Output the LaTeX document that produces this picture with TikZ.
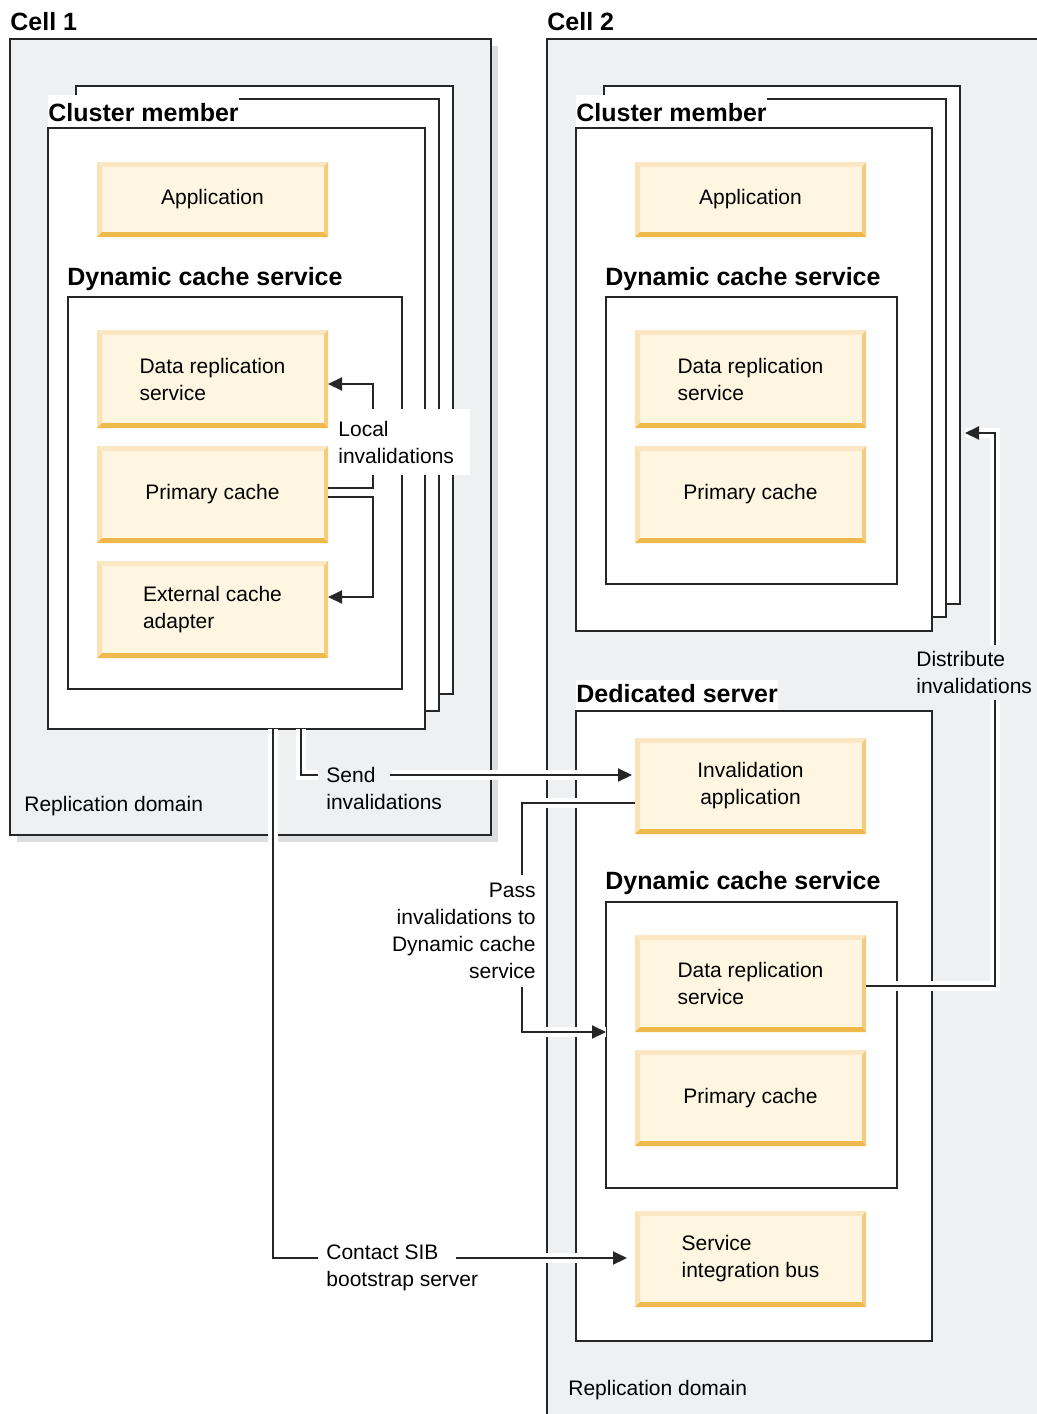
\documentclass[tikz,border=0pt]{standalone}
\usepackage{fontspec}
\setmainfont{Liberation Sans}
\usetikzlibrary{calc,arrows.meta}

\definecolor{ink}{HTML}{262626}
\definecolor{cellgray}{HTML}{EFF0F2}
\definecolor{shadowgray}{HTML}{DCDDDF}
\definecolor{yfill}{HTML}{FEF6E1}
\definecolor{ytop}{HTML}{FCE7C4}
\definecolor{yleft}{HTML}{FBE2B4}
\definecolor{yright}{HTML}{F5CC7D}
\definecolor{ybottom}{HTML}{EFBA4B}

\tikzset{
  txt/.style={font=\fontsize{10.5}{13.5}\selectfont, inner sep=0pt},
  title/.style={font=\fontsize{12.5}{15}\selectfont\bfseries, inner sep=0pt, anchor=base west},
  cellbox/.style={draw=ink, fill=cellgray, line width=1pt},
  frame/.style={draw=ink, fill=white, line width=1pt, anchor=north west, inner sep=0pt, outer sep=0pt},
  ybox/.style={txt, fill=yfill, minimum width=115.5pt, outer sep=0pt,
    path picture={
      \coordinate (pp-sw) at (path picture bounding box.south west);
      \coordinate (pp-ne) at (path picture bounding box.north east);
      \fill[ytop] (pp-sw|-pp-ne) -- (pp-ne) -- ($(pp-ne)+(-2pt,-2.5pt)$) -- ($(pp-sw|-pp-ne)+(2.5pt,-2.5pt)$) -- cycle;
      \fill[yleft] (pp-sw|-pp-ne) -- ($(pp-sw|-pp-ne)+(2.5pt,-2.5pt)$) -- ($(pp-sw)+(2.5pt,2.5pt)$) -- (pp-sw) -- cycle;
      \fill[yright] (pp-ne) -- (pp-ne|-pp-sw) -- ($(pp-ne|-pp-sw)+(-2pt,2.5pt)$) -- ($(pp-ne)+(-2pt,-2.5pt)$) -- cycle;
      \fill[ybottom] (pp-sw) -- (pp-ne|-pp-sw) -- ($(pp-ne|-pp-sw)+(-2pt,2.5pt)$) -- ($(pp-sw)+(2.5pt,2.5pt)$) -- cycle;
    }},
  link/.style={draw=ink, line width=1pt},
  halo/.style={preaction={draw=white, line width=5pt, arrows=-}},
  tip/.style={-{Triangle[length=7pt,width=6.5pt]}}
}

\begin{document}
\begin{tikzpicture}[x=0.5pt, y=-0.5pt]
  \useasboundingbox (0,0) rectangle (1037,1414);
  \clip (0,0) rectangle (1037,1414);

  % cells
  \fill[shadowgray] (17,46) rectangle (498,842);
  \draw[cellbox] (10,39) rectangle (491,835);
  \node[title] (cell1) at (10,30) {Cell 1};
  \draw[cellbox] (547,39) rectangle (1060,1440);
  \node[title] (cell2) at (547,30) {Cell 2};

  % cell 1: cluster member
  \node[frame, minimum width=188.5pt, minimum height=304pt] (cmb1) at (76,86) {};
  \node[frame, minimum width=188.5pt, minimum height=306pt] (cmm1) at (62,99) {};
  \node[frame, minimum width=188.5pt, minimum height=300.5pt] (cm1) at (48,128) {};
  \node[title, fill=white, text height=13pt, text depth=2.8pt] (cmlbl1) at (48,121) {Cluster member};
  \node[ybox, minimum height=37.5pt] (app1) at (212.5,199.5) {Application};
  \node[title] (dcslbl1) at (67,285) {Dynamic cache service};
  \node[frame, minimum width=167pt, minimum height=196pt] (dcs1) at (68,297) {};
  \node[ybox, minimum height=49pt, align=left] (drs1) at (212.5,379) {Data replication\\service};
  \node[ybox, minimum height=48.5pt] (pc1) at (212.5,494.5) {Primary cache};
  \node[ybox, minimum height=48.5pt, align=left] (eca1) at (212.5,609.5) {External cache\\adapter};

  % cell 2: cluster member
  \node[frame, minimum width=178pt, minimum height=259pt] (cmb2) at (604,86) {};
  \node[frame, minimum width=178pt, minimum height=259pt] (cmm2) at (590,99) {};
  \node[frame, minimum width=178pt, minimum height=251.5pt] (cm2) at (576,128) {};
  \node[title, fill=white, text height=13pt, text depth=2.8pt] (cmlbl2) at (576,121) {Cluster member};
  \node[ybox, minimum height=37.5pt] (app2) at (750.5,199.5) {Application};
  \node[title] (dcslbl2) at (605,285) {Dynamic cache service};
  \node[frame, minimum width=145.5pt, minimum height=143.5pt] (dcs2) at (606,297) {};
  \node[ybox, minimum height=49pt, align=left] (drs2) at (750.5,379) {Data replication\\service};
  \node[ybox, minimum height=48.5pt] (pc2) at (750.5,494.5) {Primary cache};

  % cell 2: dedicated server
  \node[frame, minimum width=178pt, minimum height=315pt] (ded) at (576,711) {};
  \node[title, fill=white, text height=11pt, text depth=4.2pt] (dedlbl) at (576,702) {Dedicated server};
  \node[ybox, minimum height=48pt, align=center] (inv) at (750.5,786) {Invalidation\\application};
  \node[title] (dcslbl3) at (605,889) {Dynamic cache service};
  \node[frame, minimum width=145.5pt, minimum height=143pt] (dcs3) at (606,902) {};
  \node[ybox, minimum height=48.5pt, align=left] (drs3) at (750.5,983.5) {Data replication\\service};
  \node[ybox, minimum height=48pt] (pc3) at (750.5,1098) {Primary cache};
  \node[ybox, minimum height=48pt, align=left] (sib) at (750.5,1259) {Service\\integration bus};

  % local invalidations
  \draw[link, tip] ($(pc1.east)+(0,-6.5)$) -- ++(45,0) |- ($(drs1.east)+(0,5)$);
  \draw[link, tip] ($(pc1.east)+(0,2.5)$) -- ++(45,0) |- ($(eca1.east)+(0,-12.5)$);

  % send invalidations
  \coordinate (sendA) at (318,775);
  \coordinate (sendB) at (390,775);
  \draw[link, halo] ($(cm1.south west)+(253,0)$) |- (sendA);
  \draw[link, halo, tip, shorten >=1.5pt] (sendB) -- (sendB -| inv.west);

  % contact SIB bootstrap server
  \coordinate (sibA) at (318,1258);
  \coordinate (sibB) at (456,1258);
  \draw[link, halo] ($(cm1.south west)+(225,0)$) |- (sibA);
  \draw[link, halo, tip, shorten >=4pt] (sibB) -- (sibB -| sib.west);

  % pass and distribute
  \draw[link, halo, tip] ($(inv.west)+(0,17)$) -| ($(dcs3.west |- drs3.south)+(-84,0)$) -- (dcs3.west |- drs3.south);
  \draw[link, halo, tip, shorten >=2.5pt] ($(drs3.east)+(0,2.5)$) -| ($(cmb2.north east)+(35,347)$) -- ($(cmb2.north east)+(0,347)$);

  % labels
  \node[txt, anchor=north west, align=left, fill=white, inner xsep=4pt, text width=62pt, minimum height=33pt] (locallbl) at (330,409) {Local\\invalidations};
  \node[txt, anchor=north west, align=left] (sendlbl) at (326,767) {Send\\invalidations};
  \node[txt, anchor=north west, align=left] (siblbl) at (326,1244) {Contact SIB\\bootstrap server};
  \node[txt, anchor=north east, align=right, fill=white, inner xsep=3pt, inner ysep=4pt] (passlbl) at (542,875) {Pass\\invalidations to\\Dynamic cache\\service};
  \node[txt, anchor=north west, align=left, fill=cellgray, inner sep=3pt] (distlbl) at (910,645) {Distribute\\invalidations};
  \node[txt, anchor=base west] (repl1) at (24,811) {Replication domain};
  \node[txt, anchor=base west] (repl2) at (568,1395) {Replication domain};
\end{tikzpicture}
\end{document}
